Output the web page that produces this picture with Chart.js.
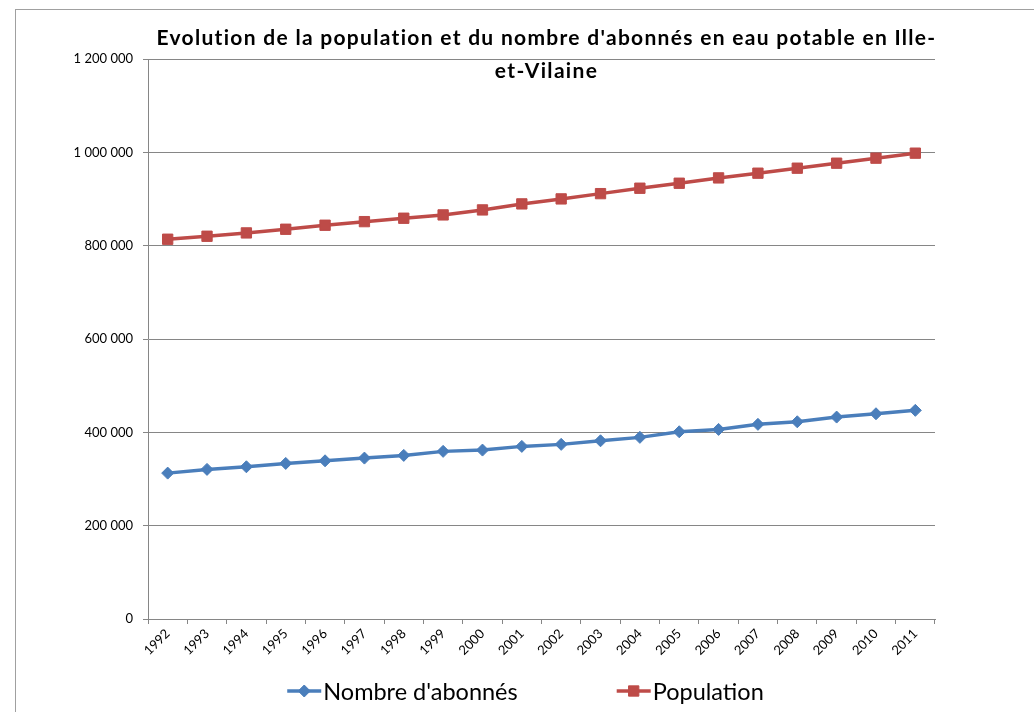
<!DOCTYPE html>
<html lang="fr">
<head>
<meta charset="utf-8">
<title>Evolution de la population et du nombre d'abonnés en eau potable en Ille-et-Vilaine</title>
<script src="https://cdn.jsdelivr.net/npm/chart.js@4/dist/chart.umd.min.js"></script>
<style>
  html, body { margin: 0; padding: 0; background: #fff; }
  #wrap { width: 1034px; height: 712px; }
</style>
</head>
<body>
<div id="wrap"><canvas id="popChart" width="1034" height="712"></canvas></div>
<script>
// Data
const years = ['1992', '1993', '1994', '1995', '1996', '1997', '1998', '1999', '2000', '2001',
               '2002', '2003', '2004', '2005', '2006', '2007', '2008', '2009', '2010', '2011'];
const abonnes = [312600, 320600, 326200, 333400, 339000, 344800, 350600, 359200, 362000, 369900,
                 374200, 381900, 389200, 401200, 406300, 417100, 422600, 432700, 439800, 447100];
const population = [813800, 820200, 827300, 835200, 843800, 851500, 858800, 865900, 876600, 889500,
                    900200, 911500, 923100, 933800, 945200, 955300, 966000, 976700, 987500, 998200];
const yTicks = [0, 200000, 400000, 600000, 800000, 1000000, 1200000];
const titleLines = ["Evolution de la population et du nombre d'abonnés en eau potable en Ille-", 'et-Vilaine'];

const FONT = 'Lato, Calibri, "Noto Sans", sans-serif';
const GRID = '#868686';

function fmt(v) {
    return String(v).replace(/\B(?=(\d{3})+(?!\d))/g, ' ');
}

// legend symbol like Excel: line through the point marker
function drawSymbol(ctx, ds, x, y) {
    ctx.save();
    ctx.strokeStyle = ds.borderColor;
    ctx.lineWidth = ds.borderWidth;
    ctx.beginPath();
    ctx.moveTo(x, y);
    ctx.lineTo(x + 34, y);
    ctx.stroke();
    ctx.lineWidth = 1;
    ctx.fillStyle = ds.backgroundColor;
    Chart.helpers.drawPoint(ctx, {
        pointStyle: ds.pointStyle, radius: ds.pointRadius, borderWidth: 1
    }, x + 17, y);
    ctx.restore();
}

const excelFrame = {
    id: 'excelFrame',
    beforeDraw(chart) {
        const ctx = chart.ctx;
        ctx.save();
        ctx.fillStyle = '#fff';
        ctx.fillRect(0, 0, chart.width, chart.height);
        ctx.strokeStyle = '#a0a0a0';
        ctx.lineWidth = 1;
        ctx.strokeRect(15.5, 9.5, chart.width, chart.height);
        ctx.restore();
    },
    afterDraw(chart) {
        const ctx = chart.ctx;
        const area = chart.chartArea;
        const cx = (area.left + area.right) / 2 + 5;

        // title sits over the top of the plot, as in the original
        ctx.save();
        ctx.fillStyle = '#000';
        ctx.textAlign = 'center';
        ctx.textBaseline = 'middle';
        ctx.font = 'bold 21px ' + FONT;
        ctx.letterSpacing = '1.3px';
        titleLines.forEach((line, i) => ctx.fillText(line, cx, 38 + i * 33));
        ctx.letterSpacing = '0px';

        // legend
        ctx.font = '23.5px ' + FONT;
        ctx.textAlign = 'left';
        const items = chart.data.datasets.map(ds => ({ ds, w: 36 + ctx.measureText(ds.label).width }));
        const gap = 99;
        const total = items.reduce((s, it) => s + it.w, 0) + gap * (items.length - 1);
        let x = cx - 21 - total / 2;
        const y = 691;
        items.forEach(it => {
            drawSymbol(ctx, it.ds, x, y);
            ctx.fillStyle = '#000';
            ctx.fillText(it.ds.label, x + 36, y + 1);
            x += it.w + gap;
        });
        ctx.restore();
    }
};

new Chart(document.getElementById('popChart'), {
    type: 'line',
    data: {
        labels: years,
        datasets: [
            {
                label: "Nombre d'abonnés",
                data: abonnes,
                borderColor: '#4A7EBB',
                backgroundColor: '#4A7EBB',
                borderWidth: 3.5,
                pointStyle: 'rectRot',
                pointRadius: 6,
                pointBorderWidth: 1,
                tension: 0
            },
            {
                label: 'Population',
                data: population,
                borderColor: '#BE4B48',
                backgroundColor: '#BE4B48',
                borderWidth: 3.5,
                pointStyle: 'rect',
                pointRadius: 7.3,
                pointBorderWidth: 1,
                tension: 0
            }
        ]
    },
    options: {
        responsive: false,
        animation: false,
        layout: { padding: { top: 59, right: 99, left: 0, bottom: 0 } },
        plugins: {
            legend: { display: false },
            title: { display: false },
            tooltip: { enabled: false }
        },
        scales: {
            x: {
                offset: true,
                grid: { offset: true, drawOnChartArea: false, drawTicks: true, tickLength: 5, color: GRID },
                border: { color: GRID },
                ticks: {
                    autoSkip: false, minRotation: 45, maxRotation: 45, padding: 2,
                    color: '#000', font: { family: FONT, size: 13 }
                },
                afterFit: s => { s.height = 93; }
            },
            y: {
                min: 0,
                max: 1200000,
                afterBuildTicks: s => { s.ticks = yTicks.map(v => ({ value: v })); },
                grid: { color: GRID, tickLength: 5 },
                border: { color: GRID },
                ticks: {
                    padding: 10, color: '#000', font: { family: FONT, size: 13 },
                    callback: v => fmt(v)
                },
                afterFit: s => { s.width = 148; }
            }
        }
    },
    plugins: [excelFrame]
});
</script>
</body>
</html>
